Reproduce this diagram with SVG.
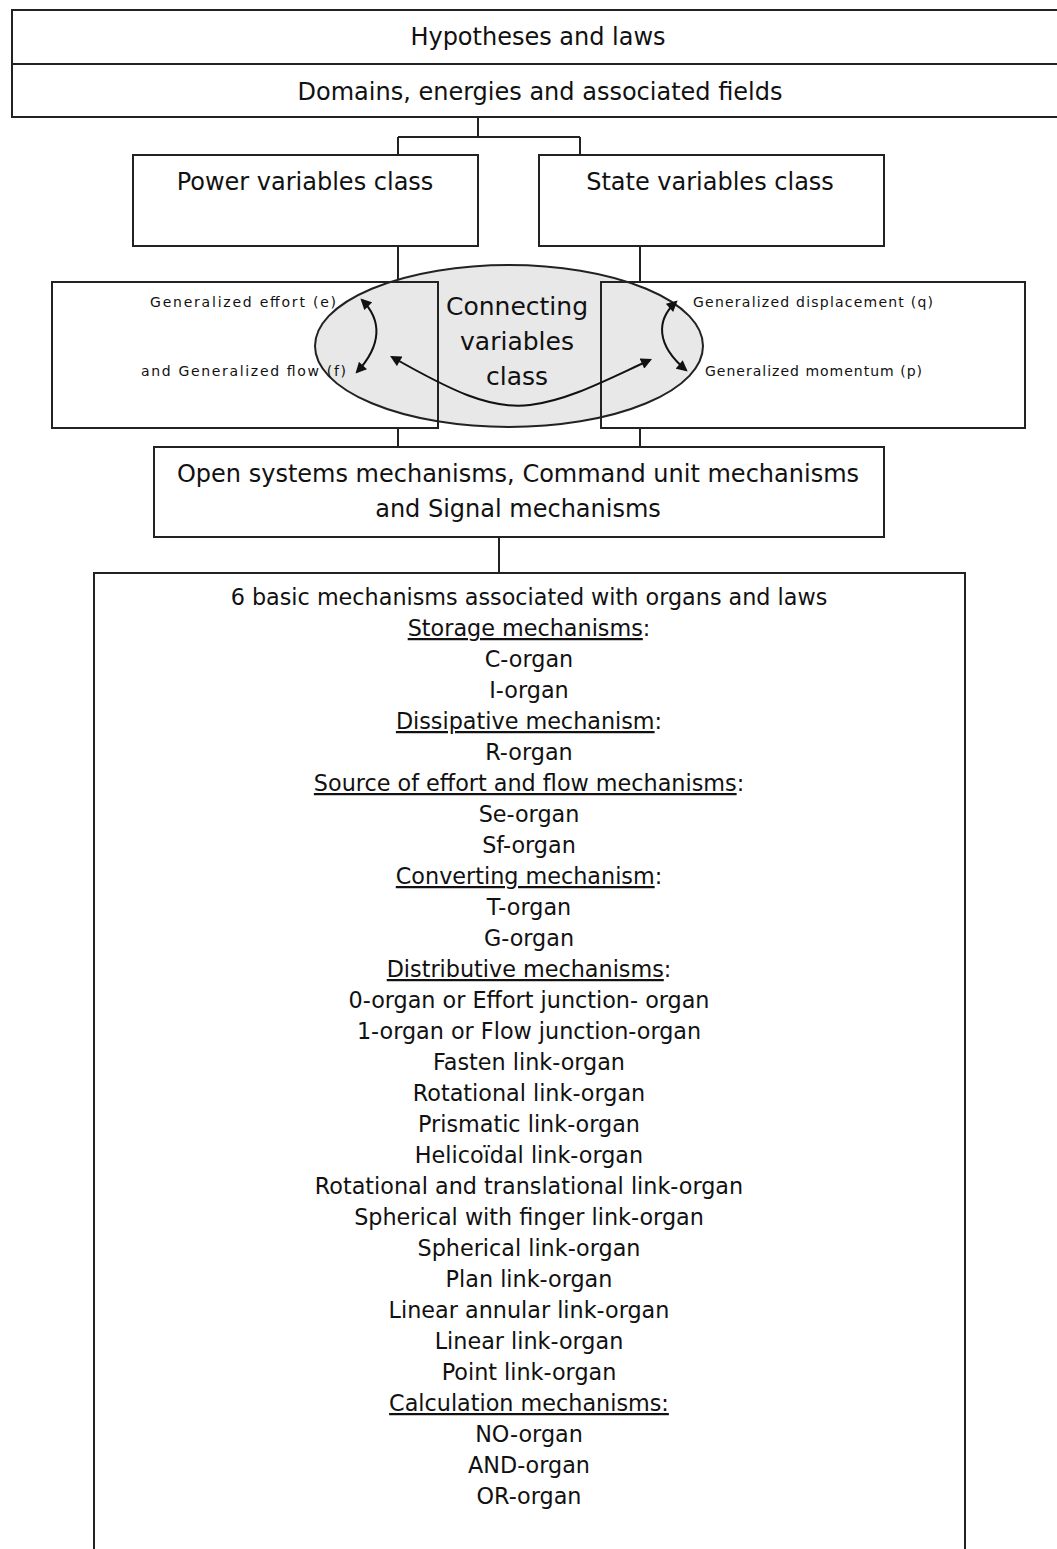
<svg xmlns="http://www.w3.org/2000/svg" width="1057" height="1549" viewBox="0 0 1057 1549">
<style>
.box{fill:none;stroke:#222;stroke-width:2}
.ln{fill:none;stroke:#222;stroke-width:2}
.t{font-family:"DejaVu Sans","Liberation Sans",sans-serif;fill:#111;text-anchor:middle}
.big{font-size:24px}
.lst{font-size:22.3px}
.sm{font-size:14px}
.u{text-decoration:underline}
.arr{fill:none;stroke:#111;stroke-width:2}
</style>
<defs>
<marker id="ah" viewBox="0 0 10 10" refX="8" refY="5" markerWidth="12" markerHeight="11" orient="auto-start-reverse" markerUnits="userSpaceOnUse">
<path d="M0,0 L10,5 L0,10 z" fill="#111"/>
</marker>
</defs>
<rect width="1057" height="1549" fill="#fff"/>
<g id="connectors">
<path class="ln" d="M478,117 V137 M398,137 H580 M398,137 V155 M580,137 V155"/>
<path class="ln" d="M398,246 V282 M640,246 V282"/>
<path class="ln" d="M398,428 V447 M640,428 V447"/>
<path class="ln" d="M499,537 V573"/>
</g>
<g id="hypotheses">
<rect class="box" x="12" y="10" width="1060" height="54"/>
<text class="t big" x="538" y="45">Hypotheses and laws</text>
</g>
<g id="domains">
<rect class="box" x="12" y="64" width="1060" height="53"/>
<text class="t big" x="540" y="100">Domains, energies and associated fields</text>
</g>
<g id="power">
<rect class="box" x="133" y="155" width="345" height="91"/>
<text class="t big" x="305" y="190">Power variables class</text>
</g>
<g id="state">
<rect class="box" x="539" y="155" width="345" height="91"/>
<text class="t big" x="710" y="190">State variables class</text>
</g>
<g id="connecting">
<ellipse cx="509" cy="346" rx="194" ry="81" fill="#e8e8e8" stroke="#222" stroke-width="2"/>
<text class="t" style="font-size:25px" x="517" y="315">Connecting</text>
<text class="t" style="font-size:25px" x="517" y="350">variables</text>
<text class="t" style="font-size:25px" x="517" y="385">class</text>
</g>
<g id="effort-flow">
<rect class="box" x="52" y="282" width="386" height="146"/>
<text class="t sm" x="336" y="307" style="text-anchor:end" textLength="186">Generalized effort (e)</text>
<text class="t sm" x="346" y="376" style="text-anchor:end" textLength="205">and Generalized flow (f)</text>
</g>
<g id="displacement-momentum">
<rect class="box" x="601" y="282" width="424" height="146"/>
<text class="t sm" x="693" y="307" style="text-anchor:start" textLength="240">Generalized displacement (q)</text>
<text class="t sm" x="705" y="376" style="text-anchor:start" textLength="217">Generalized momentum (p)</text>
</g>
<g id="arrows">
<path class="arr" d="M362,300 C382,320 382,345 357,372" marker-start="url(#ah)" marker-end="url(#ah)"/>
<path class="arr" d="M392,357 C450,390 490,410 530,405 C570,400 610,378 650,360" marker-start="url(#ah)" marker-end="url(#ah)"/>
<path class="arr" d="M676,302 C656,320 656,345 686,370" marker-start="url(#ah)" marker-end="url(#ah)"/>
</g>
<g id="open-systems">
<rect class="box" x="154" y="447" width="730" height="90"/>
<text class="t big" x="518" y="482">Open systems mechanisms, Command unit mechanisms</text>
<text class="t big" x="518" y="517">and Signal mechanisms</text>
</g>
<g id="basic-mechanisms">
<rect class="box" x="94" y="573" width="871" height="990"/>
<g class="t lst">
<text x="529" y="605">6 basic mechanisms associated with organs and laws</text>
<text x="529" y="636"><tspan class="u">Storage mechanisms</tspan>:</text>
<text x="529" y="667">C-organ</text>
<text x="529" y="698">I-organ</text>
<text x="529" y="729"><tspan class="u">Dissipative mechanism</tspan>:</text>
<text x="529" y="760">R-organ</text>
<text x="529" y="791"><tspan class="u">Source of effort and flow mechanisms</tspan>:</text>
<text x="529" y="822">Se-organ</text>
<text x="529" y="853">Sf-organ</text>
<text x="529" y="884"><tspan class="u">Converting mechanism</tspan>:</text>
<text x="529" y="915">T-organ</text>
<text x="529" y="946">G-organ</text>
<text x="529" y="977"><tspan class="u">Distributive mechanisms</tspan>:</text>
<text x="529" y="1008">0-organ or Effort junction- organ</text>
<text x="529" y="1039">1-organ or Flow junction-organ</text>
<text x="529" y="1070">Fasten link-organ</text>
<text x="529" y="1101">Rotational link-organ</text>
<text x="529" y="1132">Prismatic link-organ</text>
<text x="529" y="1163">Helicoïdal link-organ</text>
<text x="529" y="1194">Rotational and translational link-organ</text>
<text x="529" y="1225">Spherical with finger link-organ</text>
<text x="529" y="1256">Spherical link-organ</text>
<text x="529" y="1287">Plan link-organ</text>
<text x="529" y="1318">Linear annular link-organ</text>
<text x="529" y="1349">Linear link-organ</text>
<text x="529" y="1380">Point link-organ</text>
<text x="529" y="1411"><tspan class="u">Calculation mechanisms:</tspan></text>
<text x="529" y="1442">NO-organ</text>
<text x="529" y="1473">AND-organ</text>
<text x="529" y="1504">OR-organ</text>
</g>
</g>
</svg>
